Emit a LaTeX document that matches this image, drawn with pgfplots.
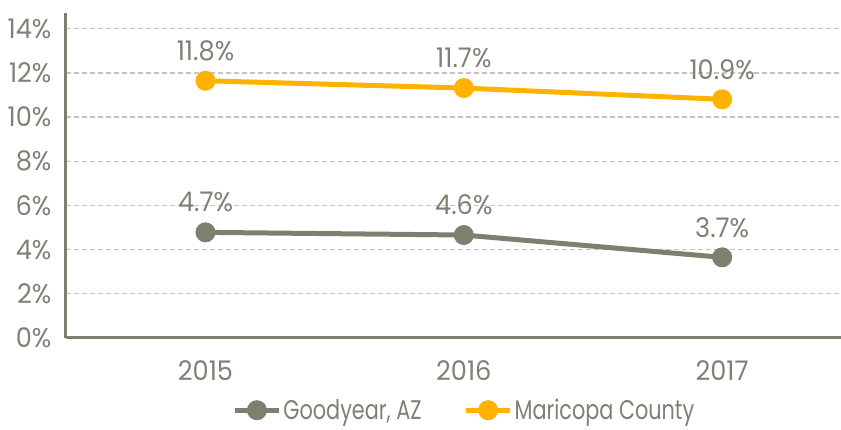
\documentclass[border=0pt]{standalone}
\usepackage{fontspec}
\setmainfont{Poppins}[FakeStretch=0.77]
\newfontfamily\numfont{Poppins}[FakeStretch=0.95]
\usepackage{pgfplots}
\pgfplotsset{compat=1.18}
\definecolor{txt}{HTML}{808075}
\definecolor{gy}{HTML}{7F7F6F}
\definecolor{mc}{HTML}{FFB300}
\definecolor{gridc}{HTML}{C4C4C0}
\newcommand{\fnt}{\fontsize{27}{31}\selectfont}
\newcommand{\nfnt}{\numfont\fontsize{27}{31}\selectfont}
\begin{document}
\begin{tikzpicture}[x=1pt,y=1pt]
\useasboundingbox (-66,-92) rectangle (775,338);
\begin{axis}[at={(0,0)}, anchor=south west,
  width=775pt, height=325.3pt, scale only axis,
  xmin=-0.54, xmax=2.46, ymin=0, ymax=14.72,
  axis x line*=bottom, axis y line*=left,
  axis line style={gy, line width=3pt, -},
  xtick={0,1,2}, xticklabels={2015,2016,2017},
  ytick={0,2,...,14},
  major tick length=0pt,
  ymajorgrids, grid style={gridc, dash pattern=on 5pt off 3pt, line width=1.4pt},
  /pgf/number format/assume math mode=true,
  tick label style={font=\nfnt, text=txt},
  yticklabel={\pgfmathprintnumber{\tick}\%},
  yticklabel style={xshift=-11pt},
  xticklabel style={yshift=-19pt},
  legend style={draw=none, at={(0.514,-0.222)}, anchor=center, legend columns=2,
    font=\fnt, text=txt, /tikz/every even column/.append style={column sep=40pt}},
  legend image code/.code={\draw[mark repeat=2,mark phase=2,#1] plot coordinates {(0pt,0pt) (22pt,0pt) (44pt,0pt)};},
  every node near coord/.append style={font=\nfnt, text=txt, anchor=center, yshift=30pt},
]
\addplot[gy, line width=5pt, mark=*, mark size=9.5pt, mark options={solid, line width=1pt, fill=gy},
  nodes near coords, point meta=explicit symbolic]
  coordinates {(0,4.78) [4.7\%] (1,4.66) [4.6\%] (2,3.65) [3.7\%]};
\addlegendentry{Goodyear, AZ}
\addplot[mc, line width=5pt, mark=*, mark size=9.5pt, mark options={solid, line width=1pt, fill=mc},
  nodes near coords, point meta=explicit symbolic]
  coordinates {(0,11.64) [11.8\%] (1,11.31) [11.7\%] (2,10.8) [10.9\%]};
\addlegendentry{Maricopa County}
\end{axis}
\end{tikzpicture}
\end{document}
